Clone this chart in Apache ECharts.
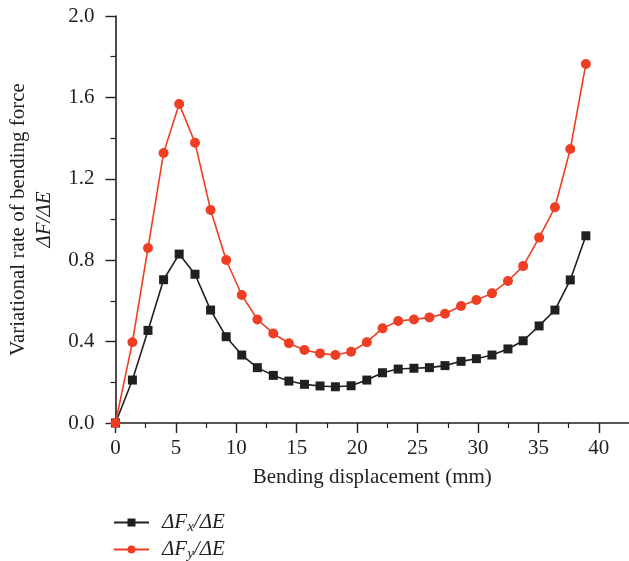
<!DOCTYPE html>
<html>
<head>
<meta charset="utf-8">
<script src="https://cdn.jsdelivr.net/npm/echarts@6/dist/echarts.min.js"></script>
<style>html,body{margin:0;padding:0;background:#fff;}#c{width:629px;height:561px;}</style>
</head>
<body>
<div id="c"></div>
<script>
// Data
var displacement = [0, 1.40, 2.69, 3.98, 5.27, 6.58, 7.87, 9.16, 10.45, 11.74, 13.06, 14.35, 15.64, 16.93, 18.2, 19.5,
  20.8, 22.1, 23.4, 24.7, 25.98, 27.27, 28.6, 29.87, 31.16, 32.48, 33.74, 35.06, 36.37, 37.64, 38.93];
var fxRate = [0, 0.211, 0.455, 0.704, 0.830, 0.731, 0.555, 0.424, 0.334, 0.272, 0.234, 0.206, 0.190, 0.182, 0.178, 0.183,
  0.211, 0.247, 0.265, 0.269, 0.272, 0.282, 0.303, 0.316, 0.334, 0.364, 0.404, 0.477, 0.555, 0.703, 0.920];
var fyRate = [0, 0.397, 0.860, 1.327, 1.568, 1.377, 1.047, 0.801, 0.629, 0.509, 0.440, 0.392, 0.359, 0.342, 0.334, 0.350,
  0.397, 0.465, 0.501, 0.509, 0.519, 0.537, 0.575, 0.604, 0.637, 0.698, 0.771, 0.911, 1.060, 1.346, 1.764];
var xMajorTicks = [0, 5, 10, 15, 20, 25, 30, 35, 40];
var xMinorTicks = [2.5, 7.5, 12.5, 17.5, 22.5, 27.5, 32.5, 37.5];
var seriesNames = ['fx', 'fy'];

var serif = 'Liberation Serif';
var ink = '#231F20';
var red = '#EE3F24';

function pairs(xs, ys) { return xs.map(function (x, i) { return [x, ys[i]]; }); }

var chart = echarts.init(document.getElementById('c'), null, {renderer: 'canvas'});
chart.setOption({
  animation: false,
  backgroundColor: '#fff',
  grid: {left: 113, right: 0, top: 16, bottom: 138, containLabel: false},
  xAxis: [{
    type: 'value', min: 0, max: 42.5, interval: 5,
    name: 'Bending displacement (mm)', nameLocation: 'middle', nameGap: 44,
    nameTextStyle: {fontFamily: serif, fontSize: 21, color: ink},
    axisLine: {show: true, lineStyle: {color: ink, width: 1.6}},
    axisTick: {show: true, length: 10, lineStyle: {color: ink, width: 1.4}, customValues: xMajorTicks},
    axisLabel: {fontFamily: serif, fontSize: 21, color: ink, margin: 15, customValues: xMajorTicks},
    splitLine: {show: false}
  }, {
    type: 'value', min: 0, max: 42.5, position: 'bottom', gridIndex: 0,
    axisLine: {show: false},
    axisTick: {show: true, length: 5, lineStyle: {color: ink, width: 1.2}, customValues: xMinorTicks},
    axisLabel: {show: false},
    splitLine: {show: false}
  }],
  yAxis: {
    type: 'value', min: 0, max: 2, interval: 0.4,
    name: '{a|Variational rate of bending force}\n{b|ΔF/ΔE}',
    nameLocation: 'middle', nameGap: 58, nameRotate: 90,
    nameTextStyle: {
      align: 'center',
      rich: {
        a: {fontFamily: serif, fontSize: 21, color: ink, lineHeight: 26, align: 'center'},
        b: {fontFamily: serif, fontSize: 21, fontStyle: 'italic', color: ink, lineHeight: 26, align: 'center'}
      }
    },
    axisLine: {show: true, lineStyle: {color: ink, width: 1.6}},
    axisTick: {show: true, length: 10, lineStyle: {color: ink, width: 1.4}},
    minorTick: {show: true, splitNumber: 2, length: 5, lineStyle: {color: ink, width: 1.2}},
    axisLabel: {fontFamily: serif, fontSize: 21, color: ink, margin: 21,
      formatter: function (v) { return v.toFixed(1); }},
    splitLine: {show: false}
  },
  legend: {
    orient: 'vertical', left: 113, top: 510, width: 200, height: 120, padding: 0, itemGap: 2,
    itemWidth: 35, itemHeight: 10,
    data: seriesNames,
    formatter: function (n) {
      return n === 'fx' ? '{i|ΔF}{s|x}{i|/ΔE}' : '{i|ΔF}{s|y}{i|/ΔE}';
    },
    textStyle: {
      padding: [0, 0, 0, 8],
      lineHeight: 22,
      rich: {
        i: {fontFamily: serif, fontStyle: 'italic', fontSize: 21, color: ink, lineHeight: 22},
        s: {fontFamily: serif, fontStyle: 'italic', fontSize: 15, color: ink, lineHeight: 12, padding: [10, 0, 0, 0]}
      }
    }
  },
  series: [{
    name: 'fx', type: 'line', xAxisIndex: 0, data: pairs(displacement, fxRate),
    symbol: 'rect', symbolSize: 9,
    lineStyle: {color: ink, width: 1.6}, itemStyle: {color: ink}
  }, {
    name: 'fy', type: 'line', xAxisIndex: 0, data: pairs(displacement, fyRate),
    symbol: 'circle', symbolSize: 10,
    lineStyle: {color: red, width: 1.6}, itemStyle: {color: red}
  }]
});
</script>
</body>
</html>
